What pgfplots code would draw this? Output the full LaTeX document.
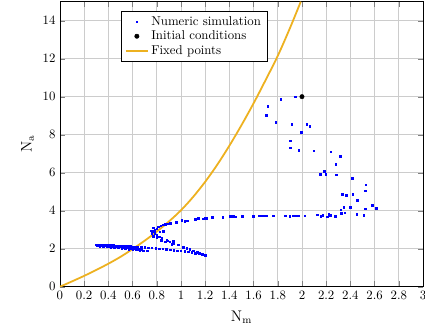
\documentclass[border=0pt]{standalone}
\usepackage{pgfplots}
\pgfplotsset{compat=1.18}
\usepackage{pgfplotstable}
\definecolor{fporange}{rgb}{0.929,0.694,0.125}

\pgfplotstableread{
x y
0.30 2.20
0.32 2.20
0.34 2.19
0.36 2.19
0.38 2.18
0.40 2.18
0.42 2.17
0.44 2.17
0.46 2.16
0.48 2.16
0.50 2.15
0.52 2.14
0.54 2.14
0.56 2.13
0.58 2.12
0.60 2.11
0.62 2.10
0.31 2.17
0.33 2.16
0.35 2.16
0.37 2.15
0.39 2.14
0.41 2.13
0.43 2.12
0.45 2.11
0.47 2.10
0.49 2.09
0.51 2.08
0.53 2.06
0.55 2.05
0.57 2.03
0.59 2.01
0.61 2.00
0.63 1.98
0.65 1.97
0.67 1.96
0.33 2.14
0.36 2.12
0.39 2.10
0.42 2.08
0.45 2.06
0.48 2.04
0.51 2.02
0.54 2.00
0.57 1.98
0.60 1.96
0.63 1.94
0.66 1.92
0.69 1.90
0.72 1.89
0.64 2.09
0.67 2.08
0.70 2.07
0.73 2.05
0.76 2.04
0.79 2.02
0.82 2.00
0.85 1.99
0.88 1.97
0.91 1.95
0.94 1.93
0.97 1.90
1.00 1.88
1.03 1.86
1.06 1.83
1.09 1.80
1.12 1.77
1.15 1.73
1.17 1.70
1.19 1.67
1.20 1.65
0.758 2.80
0.771 2.66
0.799 2.59
0.818 2.62
0.835 2.45
0.868 2.36
0.887 2.42
0.923 2.24
0.942 2.28
0.978 2.21
1.019 2.07
1.047 2.01
1.074 1.96
1.102 1.89
1.129 1.84
1.157 1.75
1.198 1.66
1.180 1.72
1.140 1.80
0.785 2.80
0.799 2.72
0.826 2.89
0.854 2.93
0.821 2.63
0.840 2.54
0.882 2.45
0.909 2.36
0.937 2.40
0.75 2.95
0.76 2.85
0.766 2.93
0.771 3.10
0.785 2.98
0.799 3.06
0.813 3.15
0.832 3.20
0.849 3.27
0.87 3.28
0.89 3.30
0.91 3.33
0.96 3.40
1.006 3.50
1.033 3.45
1.05 3.48
1.116 3.55
1.143 3.59
1.198 3.59
1.21 3.60
1.18 3.58
1.259 3.66
1.347 3.64
1.405 3.70
1.421 3.70
1.438 3.70
1.449 3.69
1.507 3.71
1.598 3.72
1.647 3.73
1.660 3.74
1.675 3.74
1.690 3.73
1.705 3.74
1.763 3.74
1.862 3.74
1.898 3.72
1.930 3.73
1.946 3.74
1.962 3.74
1.975 3.74
2.022 3.74
2.127 3.78
2.157 3.70
2.171 3.76
2.209 3.68
2.223 3.82
2.234 3.76
2.273 3.71
2.322 3.85
2.325 3.87
2.355 3.88
2.322 4.04
2.345 4.17
2.400 4.17
2.333 4.87
2.364 4.80
2.421 4.87
2.457 4.55
2.452 3.81
2.512 3.76
2.523 4.11
2.581 4.29
2.614 4.13
2.526 5.37
2.521 5.04
2.416 5.71
2.149 5.92
2.198 5.92
2.281 5.90
2.182 6.07
2.278 6.44
2.317 6.86
2.237 7.11
2.097 7.16
1.973 7.18
1.901 7.30
1.903 7.68
1.992 8.12
2.039 8.54
2.063 8.44
1.917 8.54
1.785 8.66
1.705 9.01
1.719 9.49
1.824 9.85
1.945 9.99
}\simdata

\pgfplotstableread{
x y
0 0
0.1 0.28
0.2 0.57
0.3 0.88
0.4 1.21
0.5 1.57
0.6 1.98
0.7 2.42
0.8 2.90
0.9 3.43
1.0 4.02
1.1 4.72
1.2 5.52
1.3 6.42
1.4 7.42
1.5 8.50
1.6 9.65
1.7 10.88
1.8 12.15
1.9 13.60
1.99 15.00
}\fixdata

\begin{document}
\begin{tikzpicture}
\begin{axis}[
  scale only axis,
  width=283.4pt, height=222.5pt,
  xmin=0, xmax=3, ymin=0, ymax=15,
  xtick={0,0.2,...,3.01},
  ytick={0,2,...,14},
  grid=major,
  major grid style={gray!40, line width=0.6pt},
  xlabel={$\mathrm{N_m}$},
  ylabel={$\mathrm{N_a}$},
  label style={font=\large},
  xlabel style={yshift=-2pt},
  legend style={at={(0.168,0.968)}, anchor=north west, draw=black, fill=white, font=\normalsize, row sep=-1pt},
  legend cell align=left,
]
\addplot[only marks, mark=square*, mark size=0.6pt, color=blue] table[x=x, y=y] {\simdata};
\addlegendentry{Numeric simulation}
\addplot[only marks, mark=*, mark size=1.7pt, color=black] coordinates {(2.0,10.0)};
\addlegendentry{Initial conditions}
\addplot[fporange, line width=1.4pt, smooth, no marks] table[x=x, y=y] {\fixdata};
\addlegendentry{Fixed points}
\end{axis}
\pgfresetboundingbox
\path ([shift={(-46.8pt,-36.9pt)}]current axis.south west) rectangle ([shift={(1.56pt,1.3pt)}]current axis.north east);
\end{tikzpicture}
\end{document}
